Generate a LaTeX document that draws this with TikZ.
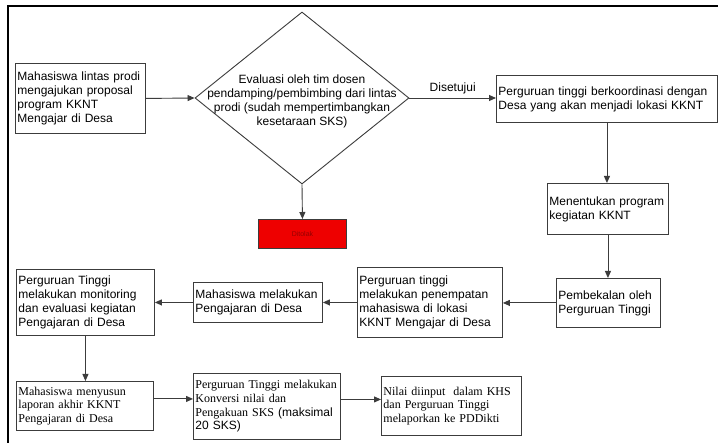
\documentclass[tikz,border=0pt]{standalone}
\usepackage{fontspec}
\setmainfont{Liberation Serif}
\setsansfont{Liberation Sans}
\usetikzlibrary{shapes.geometric, arrows.meta}

\begin{document}
\begin{tikzpicture}[x=1pt, y=-1pt,
	kotak/.style={draw=garis, line width=0.9pt, anchor=north west, inner sep=2pt, align=left, font=\fontsize{12}{14}\selectfont\sffamily},
	kotakserif/.style={kotak, font=\fontsize{12}{13.6}\selectfont\rmfamily},
	keputusan/.style={draw=garis, line width=0.9pt, diamond, minimum width=214, minimum height=172, inner sep=0pt},
	panah/.style={draw=garis, line width=0.9pt, -{Triangle[length=7pt,width=6pt]}}]
	\definecolor{garis}{RGB}{60,60,60}
	\definecolor{merah}{RGB}{238,0,0}
	\definecolor{merahtua}{RGB}{150,0,0}
	\useasboundingbox (0,0) rectangle (718,443);
	\fill[white] (0,0) rectangle (718,443);
	\draw[line width=2pt] (8,443) -- (8,6) -- (718,6);
	\node[kotak, minimum width=130, minimum height=70, text width=126] (usulan) at (15,63) {Mahasiswa lintas prodi\\mengajukan proposal\\program KKNT\\Mengajar di Desa};
	\node[keputusan] (evaluasi) at (302,98) {};
	\node[align=center, font=\fontsize{12}{14}\selectfont\sffamily] (evaluasiteks) at (302,101) {Evaluasi oleh tim dosen\\pendamping/pembimbing dari lintas\\prodi (sudah mempertimbangkan\\kesetaraan SKS)};
	\node[kotak, minimum width=221, minimum height=47, text width=217] (koordinasi) at (496,75) {Perguruan tinggi berkoordinasi dengan\\Desa yang akan menjadi lokasi KKNT};
	\node[kotak, minimum width=121, minimum height=51, text width=117] (program) at (547,183) {Menentukan program\\kegiatan KKNT};
	\node[kotak, minimum width=104, minimum height=49, text width=100] (pembekalan) at (556,278) {Pembekalan oleh\\Perguruan Tinggi};
	\node[kotak, minimum width=145, minimum height=70, text width=141] (penempatan) at (357,267) {Perguruan tinggi\\melakukan penempatan\\mahasiswa di lokasi\\KKNT Mengajar di Desa};
	\node[kotak, minimum width=129, minimum height=40, text width=125] (pengajaran) at (193,282) {Mahasiswa melakukan\\Pengajaran di Desa};
	\node[kotak, minimum width=138, minimum height=66, text width=134] (monitoring) at (16,269) {Perguruan Tinggi\\melakukan monitoring\\dan evaluasi kegiatan\\Pengajaran di Desa};
	\node[kotakserif, minimum width=137, minimum height=49, text width=133] (laporan) at (16,381) {Mahasiswa menyusun\\laporan akhir KKNT\\Pengajaran di Desa};
	\node[kotakserif, minimum width=147, minimum height=66, text width=143] (konversi) at (193,373) {Perguruan Tinggi melakukan\\Konversi nilai dan\\Pengakuan SKS {\sffamily(maksimal}\\{\sffamily 20 SKS)}};
	\node[kotakserif, minimum width=140, minimum height=59, text width=136] (pelaporan) at (381,376) {Nilai diinput\ \ dalam KHS\\dan Perguruan Tinggi\\melaporkan ke PDDikti};
	\node[draw=garis, line width=0.9pt, fill=merah, anchor=north west, minimum width=88, minimum height=29, font=\fontsize{7}{8}\selectfont\sffamily, text=merahtua] (ditolak) at (258,219) {Ditolak};
	\draw[panah] (usulan.east) -- (evaluasi.west);
	\draw[panah] (evaluasi.east) -- node[above, font=\fontsize{12}{14}\selectfont\sffamily] {Disetujui} (koordinasi.west |- evaluasi.east);
	\draw[panah] (evaluasi.south) -- (ditolak.north);
	\draw[panah] (koordinasi.south) -- (koordinasi.south |- program.north);
	\draw[panah] (program.south) -- (program.south |- pembekalan.north);
	\draw[panah] (pembekalan.west) -- (penempatan.east |- pembekalan.west);
	\draw[panah] (penempatan.west) -- (pengajaran.east |- penempatan.west);
	\draw[panah] (pengajaran.west) -- (monitoring.east |- pengajaran.west);
	\draw[panah] (monitoring.south) -- (monitoring.south |- laporan.north);
	\draw[panah] ([yshift=7]laporan.east) -- ([yshift=7]laporan.east -| konversi.west);
	\draw[panah] ([yshift=7]konversi.east) -- ([yshift=7]konversi.east -| pelaporan.west);
\end{tikzpicture}
\end{document}
